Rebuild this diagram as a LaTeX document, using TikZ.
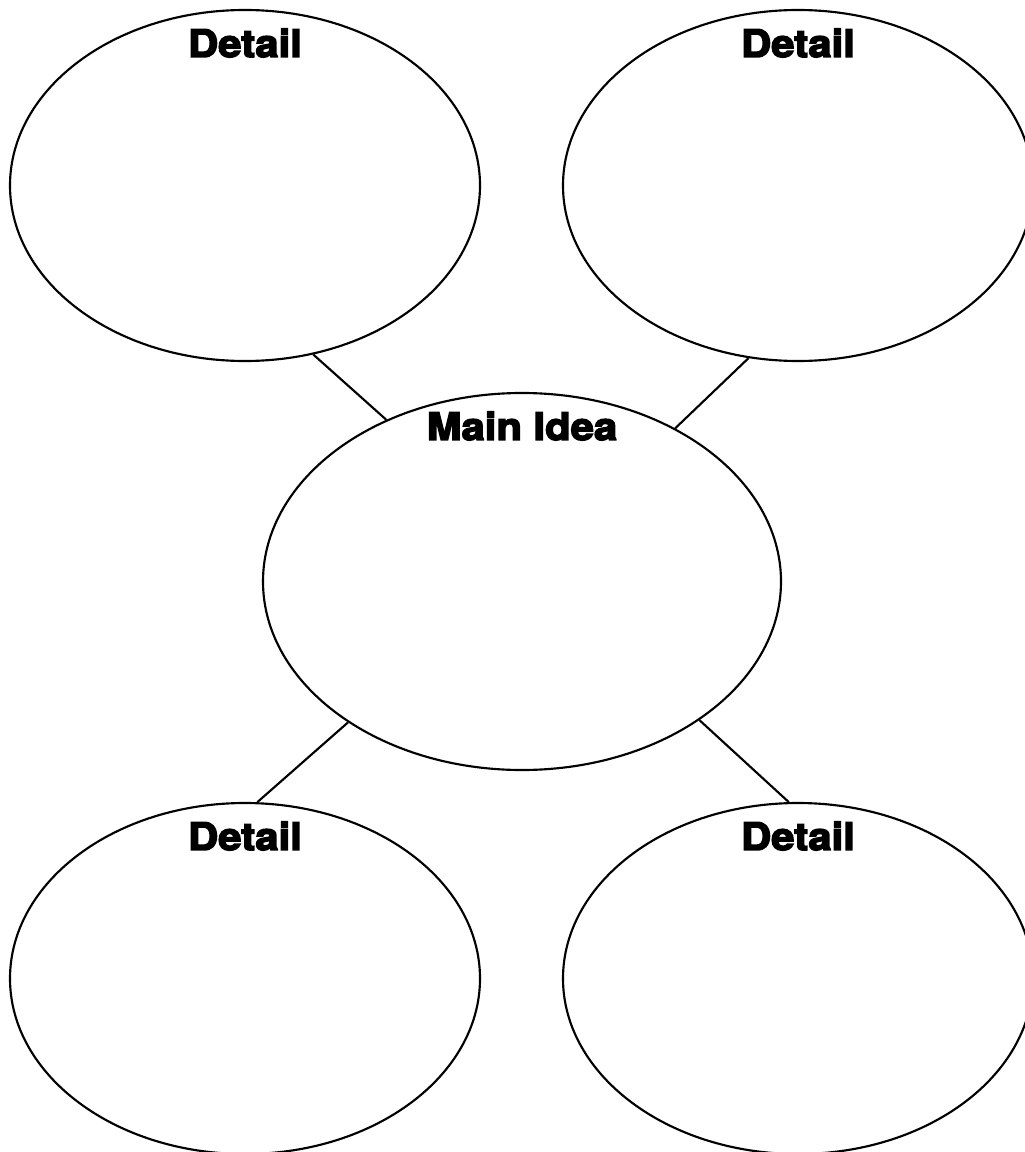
\documentclass[tikz,border=0pt]{standalone}
\usepackage{fontspec}
\newfontfamily\heavyfont[Extension=.otf, UprightFont=*-bold, FakeBold=4, FakeStretch=1.1]{texgyreheros}
\usetikzlibrary{shapes.geometric,positioning}
\tikzset{every picture/.style={line width=1.6pt}}
\tikzset{
  bubble/.style={draw, ellipse, inner sep=0pt, minimum width=352.5pt, minimum height=263.25pt},
  mainbubble/.style={bubble, minimum width=388.5pt, minimum height=282.75pt},
  bubbletitle/.style={inner sep=0pt, font=\heavyfont\fontsize{28.5}{28.5}\selectfont}
}
\begin{document}
\begin{tikzpicture}[x=0.75pt,y=0.75pt,yscale=-1,xscale=1]
    %set diagram size
    \useasboundingbox (0,0) rectangle (1024,1152);

    %Shape: Ellipse [id:main]
    \node [mainbubble] (main) at (522,581.5) {};
    %Shape: Ellipse [id:tl]
    \node [bubble] (tl) at (245,185.5) {};
    %Shape: Ellipse [id:tr]
    \node [bubble] (tr) at (798,185.5) {};
    %Shape: Ellipse [id:bl]
    \node [bubble] (bl) at (245,978.5) {};
    %Shape: Ellipse [id:br]
    \node [bubble] (br) at (798,978.5) {};

    %Straight Lines
    \draw (tl.-68) -- (main.130.7);
    \draw (tr.-106) -- (main.45.8);
    \draw (main.-141.8) -- (bl.86.8);
    \draw (main.-38) -- (br.93.6);

    % Text Node
    \node [bubbletitle, below=14pt of main.north] (maintitle) {Main Idea};
    % Text Node
    \node [bubbletitle, below=14pt of tl.north] (tltitle) {Detail};
    % Text Node
    \node [bubbletitle, below=14pt of tr.north] (trtitle) {Detail};
    % Text Node
    \node [bubbletitle, below=14pt of bl.north] (bltitle) {Detail};
    % Text Node
    \node [bubbletitle, below=14pt of br.north] (brtitle) {Detail};

\end{tikzpicture}
\end{document}
